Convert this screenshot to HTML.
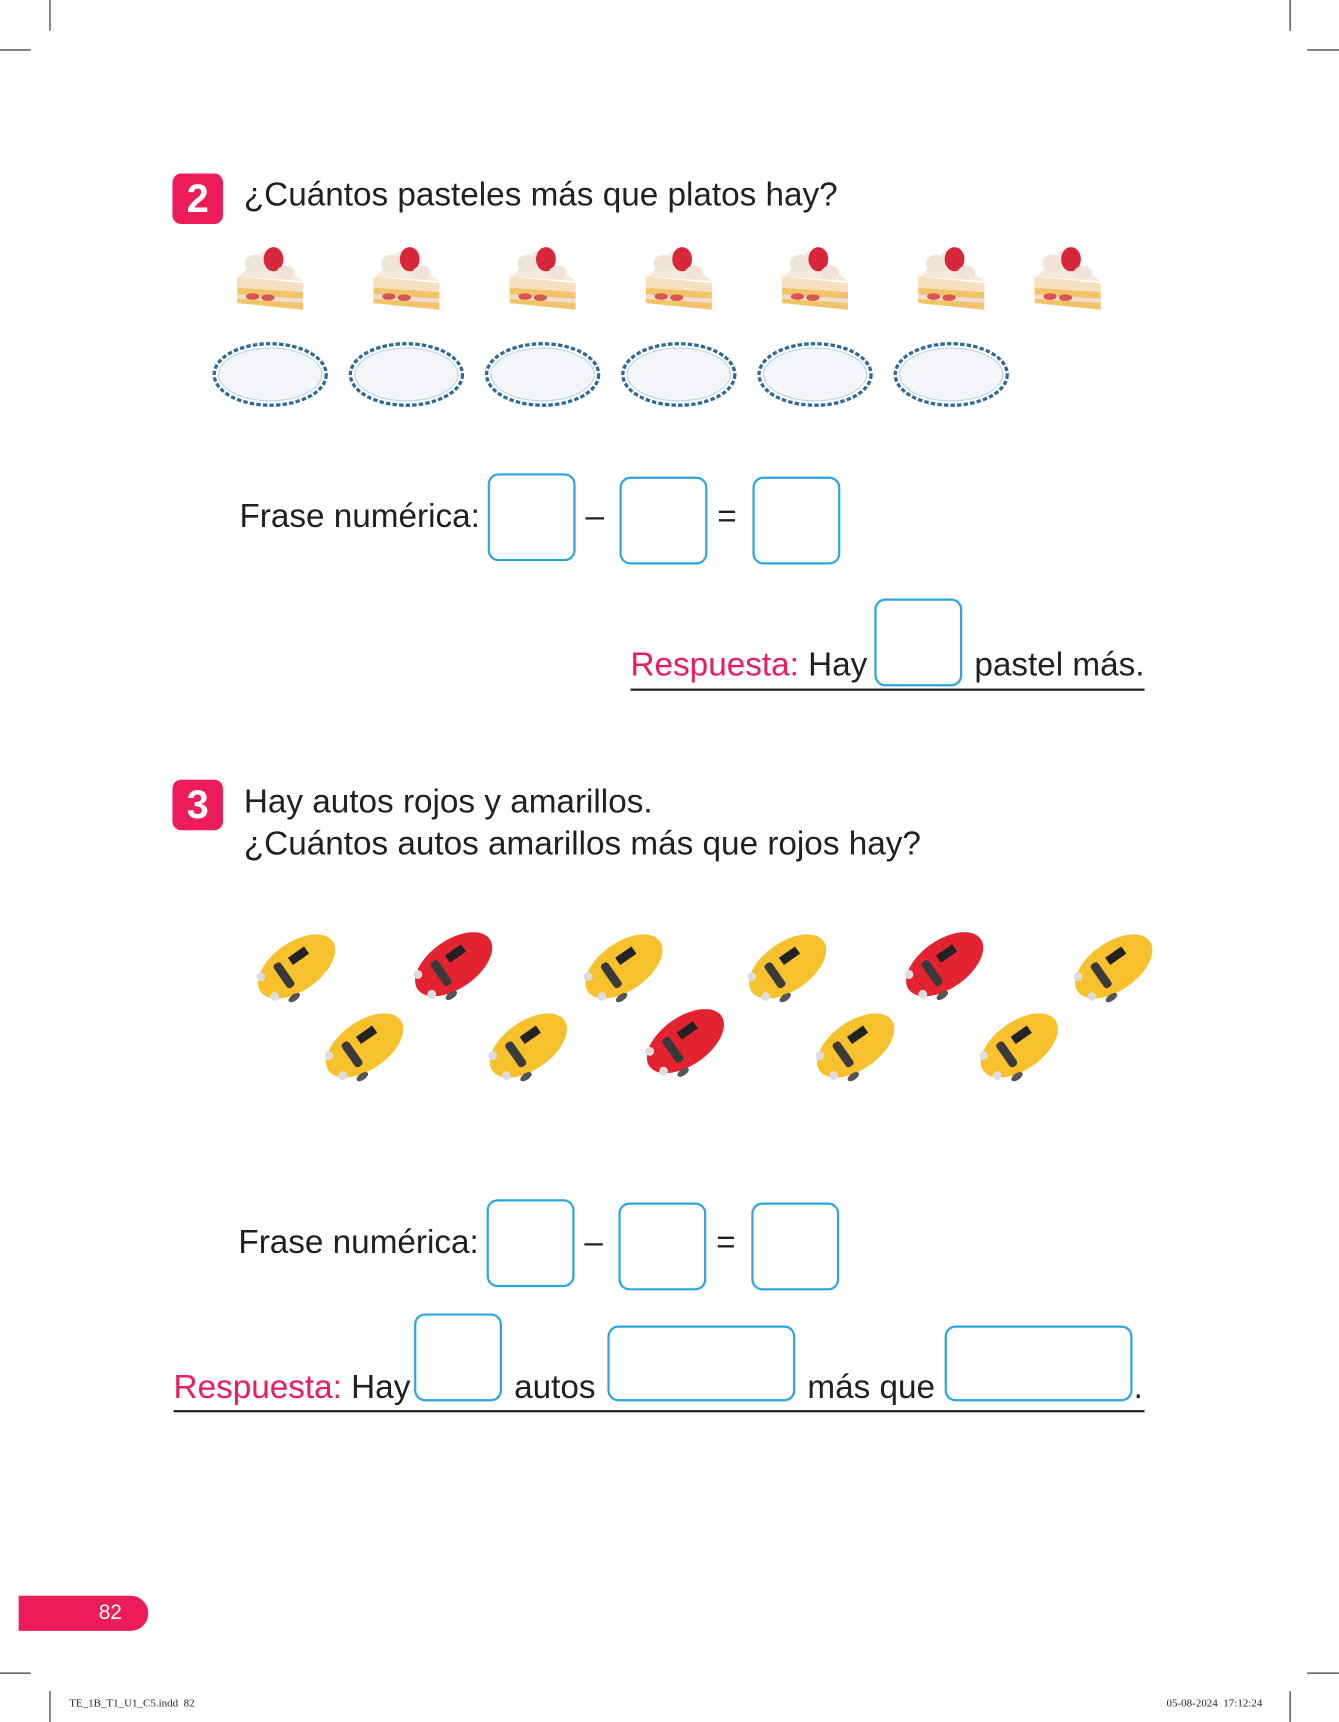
<!DOCTYPE html>
<html><head><meta charset="utf-8"><style>
html,body{margin:0;padding:0;background:#fff;width:1339px;height:1722px;overflow:hidden}
#w{position:absolute;left:0;top:0;width:1219px;height:1568px;transform:scale(1.09844,1.09821);transform-origin:0 0;font-family:"Liberation Sans",sans-serif;color:#231f20}
.a{position:absolute;white-space:nowrap}
.l{position:absolute;background:#231f20}
.badge{position:absolute;width:46px;height:46px;background:#ec1c5b;border-radius:8px;color:#fff;font-weight:bold;font-size:36px;text-align:center;line-height:46px}
.box{position:absolute;border:2px solid #2aa6df;border-radius:10px;box-sizing:border-box;background:#fff}
.t{font-size:30.3px;letter-spacing:0}
.pk{color:#ec1c5b}
</style></head><body><div id="w">
<div class="l" style="left:45px;top:0;width:1px;height:28px"></div>
<div class="l" style="left:0;top:45px;width:28px;height:1px"></div>
<div class="l" style="left:1174px;top:0;width:1px;height:28px"></div>
<div class="l" style="left:1190px;top:45px;width:29px;height:1px"></div>
<div class="l" style="left:0;top:1523px;width:28px;height:1px"></div>
<div class="l" style="left:1190px;top:1523px;width:29px;height:1px"></div>
<div class="l" style="left:45px;top:1540px;width:1px;height:28px"></div>
<div class="l" style="left:1174px;top:1540px;width:1px;height:28px"></div>

<div class="badge" style="left:157px;top:158px">2</div>
<div class="a t" style="left:222px;top:161px">¿Cuántos pasteles más que platos hay?</div>

<svg class="a" style="left:0;top:0" width="1219" height="1568">
<defs>
<g id="cake">
<polygon points="0,30 60,36 60,60 0,54" fill="#f2c46a"/>
<polygon points="0,30 60,36 60,44 0,40" fill="#f6e0c0"/>
<polygon points="0,46 60,50 60,54 0,50" fill="#f3ddd0"/>
<ellipse cx="14" cy="48" rx="6" ry="3" fill="#d9534f"/><ellipse cx="28" cy="49" rx="6" ry="3" fill="#d9534f"/>
<polygon points="2,30 24,6 60,34" fill="#f5e8dc"/>
<ellipse cx="16" cy="18" rx="9" ry="8" fill="#efe4d8"/>
<ellipse cx="33" cy="14" rx="9" ry="11" fill="#d8263a"/>
<ellipse cx="44" cy="26" rx="8" ry="6" fill="#efe2d6"/>
</g>
<g id="plate">
<ellipse cx="52" cy="29" rx="51" ry="28" fill="#fff" stroke="#2d6a9a" stroke-width="3" stroke-dasharray="4 2"/>
<ellipse cx="52" cy="29" rx="47" ry="24" fill="#f4f5f8" stroke="#b8d4e4" stroke-width="1"/>
</g>
<g id="car">
<g transform="rotate(-35 40 35)">
<ellipse cx="40" cy="35" rx="40" ry="22" fill="currentColor"/>
<rect x="22" y="22" width="8" height="26" rx="3" fill="#3a3a3a"/>
<rect x="38" y="24" width="18" height="8" fill="#222"/>
<circle cx="8" cy="24" r="4" fill="#ddd"/><circle cx="8" cy="46" r="4" fill="#ddd"/>
<ellipse cx="22" cy="57" rx="6" ry="3" fill="#555"/>
</g>
</g>
</defs>
<use href="#cake" x="216" y="222"/><use href="#cake" x="340" y="222"/><use href="#cake" x="464" y="222"/><use href="#cake" x="588" y="222"/><use href="#cake" x="712" y="222"/><use href="#cake" x="836" y="222"/><use href="#cake" x="942" y="222"/>
<use href="#plate" x="194" y="312"/><use href="#plate" x="318" y="312"/><use href="#plate" x="442" y="312"/><use href="#plate" x="566" y="312"/><use href="#plate" x="690" y="312"/><use href="#plate" x="814" y="312"/>
<g style="color:#f6c12c"><use href="#car" x="230" y="845"/><use href="#car" x="292" y="917"/><use href="#car" x="441" y="917"/><use href="#car" x="528" y="845"/><use href="#car" x="677" y="845"/><use href="#car" x="739" y="917"/><use href="#car" x="888" y="917"/><use href="#car" x="974" y="845"/></g>
<g style="color:#e3232f"><use href="#car" x="373" y="843"/><use href="#car" x="584" y="913"/><use href="#car" x="820" y="843"/></g>
</svg>

<div class="a t" style="left:218px;top:454px">Frase numérica:</div>
<div class="box" style="left:444px;top:431px;width:80px;height:80px"></div>
<div class="a t" style="left:533px;top:454px">–</div>
<div class="box" style="left:564px;top:434px;width:80px;height:80px"></div>
<div class="a t" style="left:653px;top:454px">=</div>
<div class="box" style="left:685px;top:434px;width:80px;height:80px"></div>

<div class="a t" style="left:574px;top:589px"><span class="pk">Respuesta:</span> Hay</div>
<div class="box" style="left:796px;top:545px;width:80px;height:80px"></div>
<div class="a t" style="left:887px;top:589px">pastel más.</div>
<div class="l" style="left:574px;top:627px;width:468px;height:2px"></div>

<div class="badge" style="left:157px;top:710px">3</div>
<div class="a t" style="left:222px;top:712px;line-height:38px">Hay autos rojos y amarillos.<br>¿Cuántos autos amarillos más que rojos hay?</div>

<div class="a t" style="left:217px;top:1115px">Frase numérica:</div>
<div class="box" style="left:443px;top:1092px;width:80px;height:80px"></div>
<div class="a t" style="left:532px;top:1115px">–</div>
<div class="box" style="left:563px;top:1095px;width:80px;height:80px"></div>
<div class="a t" style="left:652px;top:1115px">=</div>
<div class="box" style="left:684px;top:1095px;width:80px;height:80px"></div>

<div class="a t" style="left:158px;top:1247px"><span class="pk">Respuesta:</span> Hay</div>
<div class="box" style="left:377px;top:1196px;width:80px;height:80px"></div>
<div class="a t" style="left:468px;top:1247px">autos</div>
<div class="box" style="left:553px;top:1207px;width:171px;height:69px"></div>
<div class="a t" style="left:735px;top:1247px">más que</div>
<div class="box" style="left:860px;top:1207px;width:171px;height:69px"></div>
<div class="a t" style="left:1032px;top:1247px">.</div>
<div class="l" style="left:158px;top:1284px;width:884px;height:2px"></div>

<div class="a" style="left:17px;top:1453px;width:118px;height:32px;background:#ec1c5b;border-radius:0 16px 16px 0;color:#fff;font-size:19px;line-height:32px;text-align:right;box-sizing:border-box;padding-right:24px">82</div>
<div class="a" style="left:63px;top:1546px;font-family:'Liberation Serif',serif;font-size:10px">TE_1B_T1_U1_C5.indd&nbsp;&nbsp;82</div>
<div class="a" style="left:1062px;top:1546px;font-family:'Liberation Serif',serif;font-size:10px">05-08-2024&nbsp;&nbsp;17:12:24</div>
</div></body></html>
